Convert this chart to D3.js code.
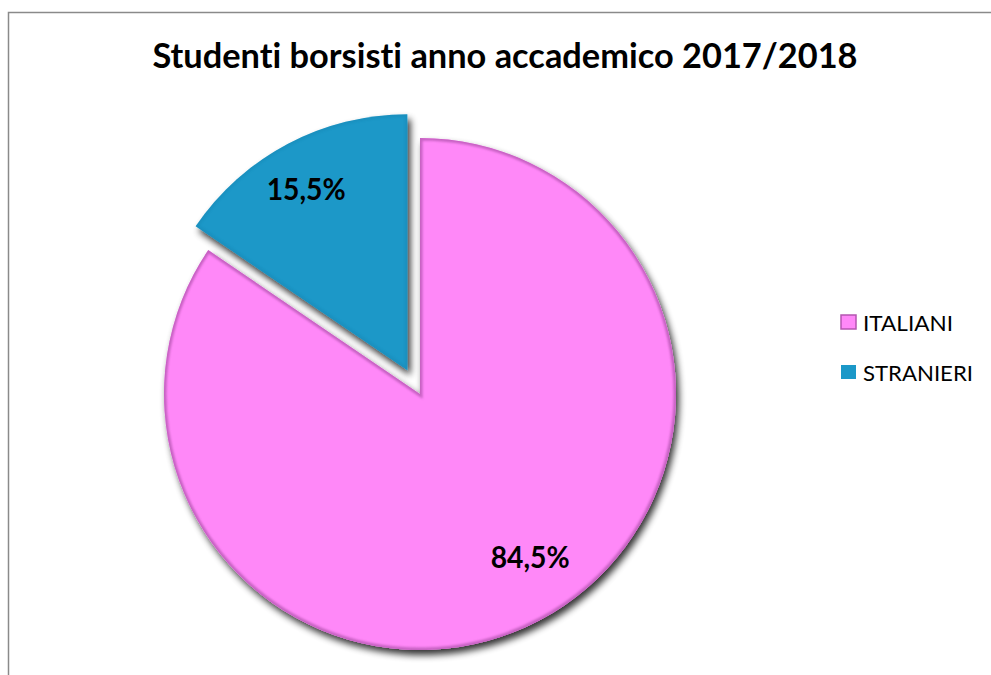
<!DOCTYPE html>
<html><head><meta charset="utf-8">
<script src="https://cdn.jsdelivr.net/npm/d3@7"></script>
<style>body{margin:0;background:#fff}svg{display:block}text{font-variant-ligatures:none;font-kerning:normal}</style>
</head><body>
<script>
const categories = ["ITALIANI", "STRANIERI"];
const values = [84.5, 15.5];
const labels = ["84,5%", "15,5%"];
const colors = ["#FF88F8", "#1B98C8"];
const rims = ["#B455B0", "#137AA5"];
const title = "Studenti borsisti anno accademico 2017/2018";

const W = 991, H = 675;
const svg = d3.select("body").append("svg").attr("width", W).attr("height", H);
const defs = svg.append("defs");
const f = defs.append("filter").attr("id", "sh").attr("x", "-20%").attr("y", "-20%").attr("width", "140%").attr("height", "140%");
f.append("feGaussianBlur").attr("in", "SourceAlpha").attr("stdDeviation", 3.5).attr("result", "b");
f.append("feOffset").attr("in", "b").attr("dx", 3).attr("dy", 5).attr("result", "o");
f.append("feComponentTransfer").attr("in", "o").attr("result", "o2")
  .append("feFuncA").attr("type", "linear").attr("slope", 0.8);
const m = f.append("feMerge");
m.append("feMergeNode").attr("in", "o2");
m.append("feMergeNode").attr("in", "SourceGraphic");

const fb = defs.append("filter").attr("id", "blur1");
fb.append("feGaussianBlur").attr("stdDeviation", 1.2);

svg.append("rect").attr("x", 8.5).attr("y", 12.5).attr("width", 1100).attr("height", 800)
  .attr("fill", "#fff").attr("stroke", "#8a8a8a").attr("stroke-width", 1.5);

svg.append("text").attr("x", 505).attr("y", 68).attr("text-anchor", "middle")
  .attr("font-family", "Lato, 'Open Sans', sans-serif").attr("font-weight", "bold")
  .attr("font-size", 35).attr("textLength", 705).attr("lengthAdjust", "spacingAndGlyphs")
  .attr("fill", "#000").text(title);

const cx = 420, cy = 394, R = 256, explode = [0, 27];
const labelR = [0.77, 0.81], labelShift = [-0.106, -0.023];
const pie = d3.pie().sort(null).value(d => d)(values);
const arc = d3.arc().innerRadius(0).outerRadius(R);

const g = svg.append("g").attr("transform", `translate(${cx},${cy})`);
pie.forEach((d, i) => {
  const mid = (d.startAngle + d.endAngle) / 2;
  const ox = Math.sin(mid) * explode[i], oy = -Math.cos(mid) * explode[i];
  const sg = g.append("g").attr("transform", `translate(${ox},${oy})`);
  const cid = "clip" + i;
  defs.append("clipPath").attr("id", cid).append("path").attr("d", arc(d));
  sg.append("path").attr("d", arc(d)).attr("fill", colors[i]).attr("filter", "url(#sh)");
  const inner = sg.append("g").attr("clip-path", `url(#${cid})`);
  inner.append("path").attr("d", arc(d)).attr("fill", "none").attr("stroke", rims[i])
    .attr("stroke-width", 5).attr("filter", "url(#blur1)").attr("opacity", i === 0 ? 0.75 : 0.25);
  const lr = R * labelR[i];
  const la = mid + labelShift[i];
  sg.append("text").attr("x", Math.sin(la) * lr).attr("y", -Math.cos(la) * lr)
    .attr("dy", "0.36em").attr("text-anchor", "middle")
    .attr("font-family", "Lato, sans-serif").attr("font-weight", "bold").attr("font-size", 30)
    .attr("textLength", 79).attr("lengthAdjust", "spacingAndGlyphs")
    .attr("fill", "#000").text(labels[i]);
});

const leg = svg.append("g").attr("transform", "translate(841,315)");
categories.forEach((c, i) => {
  const y = i * 50;
  leg.append("rect").attr("x", 0).attr("y", y).attr("width", 15).attr("height", 14)
    .attr("fill", colors[i]).attr("stroke", i === 0 ? rims[0] : "none").attr("stroke-width", 1.5);
  leg.append("text").attr("x", 22).attr("y", y + 16)
    .attr("font-family", "Lato, sans-serif").attr("font-size", 22).attr("fill", "#000")
    .attr("textLength", i === 0 ? 90 : 110).attr("lengthAdjust", "spacingAndGlyphs").text(c);
});
</script>
</body></html>
